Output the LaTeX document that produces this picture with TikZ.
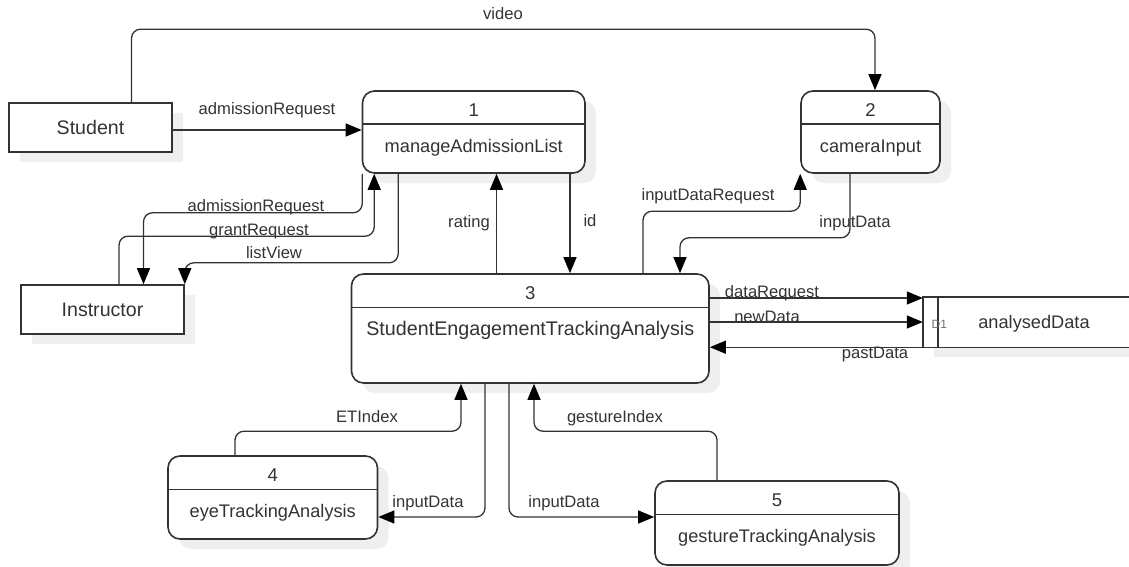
\documentclass[tikz,border=0pt]{standalone}
\usepackage{fontspec}
\setmainfont{Liberation Sans}
\usetikzlibrary{arrows.meta,shadows}

\definecolor{ink}{HTML}{333333}
\definecolor{shade}{HTML}{EFEFEF}

% process bubble: name, centre, width, height, number, title
\newcommand{\procbox}[6]{%
  \node[proc, minimum width=#3, minimum height=#4] (#1) at #2 {};
  \draw[divider] ([yshift=-34pt]#1.north west) -- ([yshift=-34pt]#1.north east);
  \node[procnum] (#1num) at ([yshift=-26pt]#1.north) {#5};
  \node[procname] (#1name) at ([yshift=-62pt]#1.north) {#6};
}

\begin{document}
\begin{tikzpicture}[x=1pt, y=-1pt,
  shadowed/.style={drop shadow={shadow xshift=11pt, shadow yshift=-10pt, fill=shade, opacity=1}},
  ent/.style={draw=ink, line width=1.6pt, fill=white, shadowed, minimum height=49pt,
    text=ink, font=\fontsize{19.6}{23}\selectfont},
  proc/.style={draw=ink, line width=1.6pt, fill=white, shadowed, rounded corners=12pt},
  divider/.style={draw=ink, line width=1.4pt},
  procnum/.style={anchor=base, inner sep=0pt, text=ink, font=\fontsize{18.5}{22}\selectfont},
  procname/.style={anchor=base, inner sep=0pt, text=ink, font=\fontsize{18.2}{22}\selectfont},
  flow/.style={draw=ink, line width=1.3pt, rounded corners=9pt,
    -{Triangle[length=16pt, width=13pt, color=black]}},
  lbl/.style={anchor=base, inner sep=0pt, text=ink, font=\fontsize{16.6}{20}\selectfont}]

\useasboundingbox (0,0) rectangle (1129,567);

% external entities
\node[ent, minimum width=163pt] (student) at (90.5,127.5) {Student};
\node[ent, minimum width=163pt] (instr) at (102.5,309.5) {Instructor};

% processes
\procbox{p1}{(473.75,132)}{222.5pt}{82pt}{1}{manageAdmissionList}
\procbox{p2}{(870.5,132)}{139pt}{82pt}{2}{cameraInput}
\procbox{p3}{(530.25,328.5)}{357.5pt}{109pt}{3}{\fontsize{19.7}{23}\selectfont StudentEngagementTrackingAnalysis}
\procbox{p4}{(272.75,497.5)}{209.5pt}{83pt}{4}{eyeTrackingAnalysis}
\procbox{p5}{(777,523)}{244pt}{84pt}{5}{gestureTrackingAnalysis}

% data store, open on the right
\node[fill=white, shadowed, minimum width=217pt, minimum height=50pt, inner sep=0pt] (store) at (1031.5,322) {};
\draw[ink, line width=1.4pt] (store.north east) -- (store.north west) -- (store.south west) -- (store.south east);
\draw[ink, line width=1.4pt] ([xshift=15pt]store.north west) -- ([xshift=15pt]store.south west);
\node[anchor=base, inner sep=0pt, text=ink!70, font=\fontsize{12}{14}\selectfont] (storeid) at ([xshift=16.5pt, yshift=-6pt]store.west) {D1};
\node[procname] (storename) at ([xshift=2.5pt, yshift=-6pt]store.center) {analysedData};

% data flows
\draw[flow] ([xshift=41pt]student.north) -- ++(0,-73) -| ([xshift=4.5pt]p2.north);
\draw[flow] ([yshift=-2.5pt]student.east) -- ([yshift=-2.5pt]student.east -| p1.west);
\draw[flow] ([xshift=0.5pt]p1.south west) -- ++(0,39) -| ([xshift=41pt]instr.north);
\draw[flow] ([xshift=16.5pt]instr.north) -- ++(0,-48) -| ([xshift=12.5pt]p1.south west);
\draw[flow] ([xshift=36.5pt]p1.south west) -- ++(0,89) -| (instr.north east);
\draw[flow] ([xshift=-33.75pt]p3.north) -- ([xshift=-33.75pt]p3.north |- p1.south);
\draw[flow] ([xshift=96.25pt]p1.south) -- ([xshift=96.25pt]p1.south |- p3.north);
\draw[flow] ([xshift=112.75pt]p3.north) -- ++(0,-62) -| (p2.south west);
\draw[flow] ([xshift=-20.5pt]p2.south) -- ++(0,64) -| ([xshift=149.75pt]p3.north);
\draw[flow] ([yshift=30.5pt]p3.east) -- ([yshift=30.5pt]p3.east -| store.west);
\draw[flow] ([yshift=6.5pt]p3.east) -- ([yshift=6.5pt]p3.east -| store.west);
\draw[flow] (store.south west) -- (store.south west -| p3.east);
\draw[flow] ([xshift=-37.75pt]p4.north) -- ++(0,-24) -| ([xshift=-69.25pt]p3.south);
\draw[flow] ([xshift=-45.25pt]p3.south) |- ([yshift=-19.5pt]p4.east);
\draw[flow] ([xshift=-21.25pt]p3.south) |- ([yshift=6pt]p5.west);
\draw[flow] ([xshift=-60pt]p5.north) -- ++(0,-49) -| ([xshift=3.75pt]p3.south);

% flow labels
\node[lbl] (l-video) at (503,20) {video};
\node[lbl] (l-admit) at (267,114) {admissionRequest};
\node[lbl] (l-admitback) at (256,211) {admissionRequest};
\node[lbl] (l-grant) at (259,235) {grantRequest};
\node[lbl] (l-list) at (274,258) {listView};
\node[lbl] (l-rating) at (469,227) {rating};
\node[lbl] (l-id) at (590,226) {id};
\node[lbl] (l-inreq) at (708,200) {inputDataRequest};
\node[lbl] (l-incam) at (855,227) {inputData};
\node[lbl] (l-datareq) at (772,297) {dataRequest};
\node[lbl] (l-new) at (767,322) {newData};
\node[lbl] (l-past) at (875,358) {pastData};
\node[lbl] (l-et) at (367,422) {ETIndex};
\node[lbl] (l-gesture) at (615,422) {gestureIndex};
\node[lbl] (l-ineye) at (428,507) {inputData};
\node[lbl] (l-ingest) at (564,507) {inputData};

\end{tikzpicture}
\end{document}
